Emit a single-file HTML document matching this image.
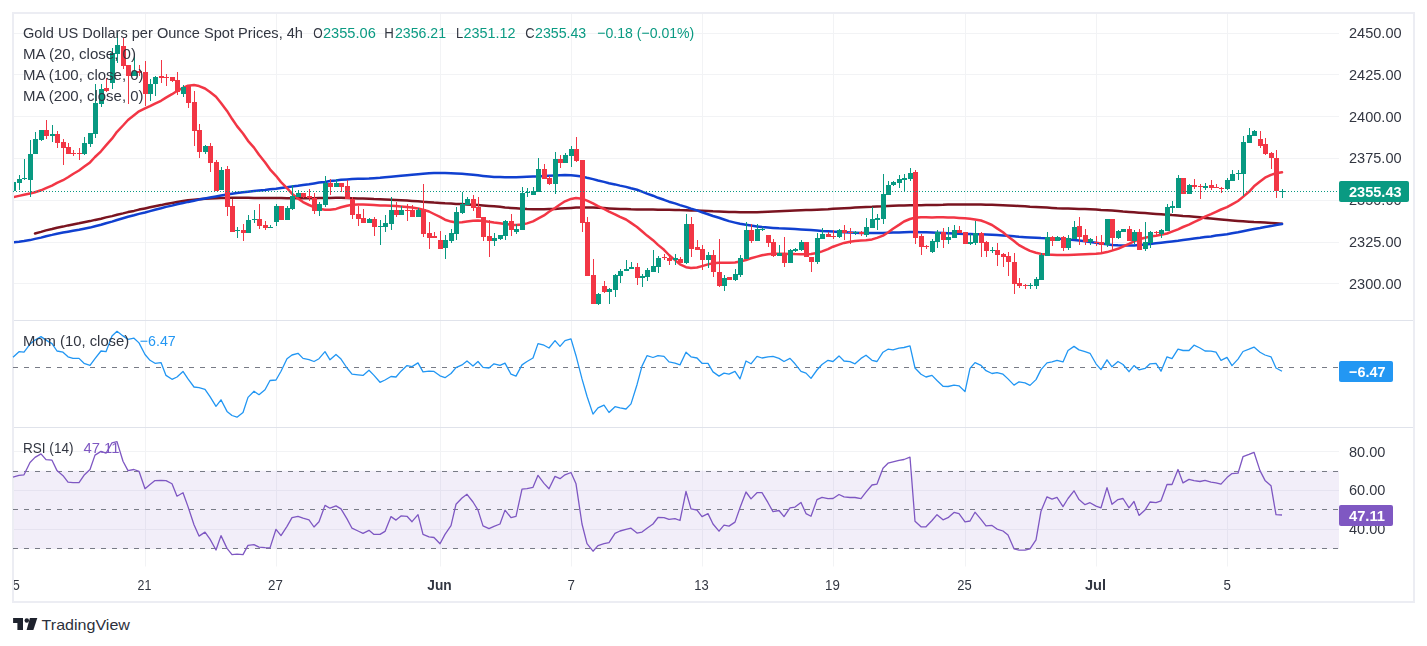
<!DOCTYPE html>
<html><head><meta charset="utf-8"><title>Gold chart</title><style>html,body{margin:0;padding:0;background:#fff;}svg{display:block;}</style></head><body>
<svg width="1427" height="646" viewBox="0 0 1427 646">
<rect width="1427" height="646" fill="#fff"/>
<defs><clipPath id="cx"><rect x="14" y="570" width="1400" height="30"/></clipPath><clipPath id="cp"><rect x="14" y="14" width="1325" height="552"/></clipPath><clipPath id="cm"><rect x="14" y="14" width="1325" height="306"/></clipPath></defs>
<path d="M145.5,14V566.5M276.5,14V566.5M440.5,14V566.5M571.5,14V566.5M702.5,14V566.5M833.5,14V566.5M965.5,14V566.5M1096.5,14V566.5M1227.5,14V566.5M14,33.5H1339M14,74.5H1339M14,116.5H1339M14,158.5H1339M14,200.5H1339M14,242.5H1339M14,283.5H1339M14,451.5H1339M14,490.5H1339M14,529.5H1339" stroke="#f2f3f5" stroke-width="1" fill="none"/>
<rect x="14" y="470.7" width="1325" height="78.3" fill="#7e57c2" fill-opacity="0.1"/>
<path d="M14,320.5H1413M14,427.5H1413" stroke="#e0e3eb" stroke-width="1" fill="none"/>
<rect x="13" y="13" width="1401" height="589" fill="none" stroke="#ecedf3" stroke-width="2"/>
<g clip-path="url(#cm)">
<path d="M35,233.5L41,231.9L46,230.4L52,229L57,227.7L63,226.6L68,225.4L73,224.4L79,223.3L84,222.2L90,221.1L95,219.9L101,218.7L106,217.4L112,216.1L117,214.8L123,213.4L128,212.1L134,210.9L139,209.6L145,208.4L150,207.3L155,206.2L161,205.1L166,204L172,202.9L177,201.9L183,201L188,200.3L194,199.7L199,199.2L205,198.7L210,198.4L216,198.2L221,198L227,197.9L232,197.8L237,197.8L243,197.8L248,197.8L254,197.9L259,197.9L265,198L270,198L276,198.1L281,198.1L287,198.2L292,198.2L298,198.2L303,198.2L309,198.2L314,198.2L319,198.1L325,198L330,197.9L336,197.8L341,197.8L347,198L352,198.2L358,198.4L363,198.6L369,198.8L374,199.1L380,199.3L385,199.5L391,199.7L396,199.9L401,200.2L407,200.5L412,200.9L418,201.3L423,201.8L429,202.2L434,202.6L440,202.9L445,203.3L451,203.6L456,203.9L462,204.1L467,204.4L473,204.7L478,205.1L483,205.4L489,205.9L494,206.3L500,206.8L505,207.4L511,207.9L516,208.3L522,208.7L527,209L533,209.2L538,209.3L544,209.3L549,209.1L555,208.9L560,208.6L565,208.2L571,207.9L576,207.6L582,207.4L587,207.4L593,207.6L598,207.8L604,208.1L609,208.4L615,208.7L620,209L626,209.1L631,209.3L637,209.4L642,209.5L647,209.6L653,209.6L658,209.7L664,209.7L669,209.8L675,209.9L680,210.1L686,210.2L691,210.4L697,210.6L702,210.8L708,211L713,211.3L719,211.5L724,211.7L729,212L735,212.1L740,212.3L746,212.3L751,212.3L757,212.2L762,212L768,211.7L773,211.5L779,211.2L784,210.9L790,210.7L795,210.5L801,210.3L806,210.1L811,209.9L817,209.7L822,209.5L828,209.2L833,208.8L839,208.5L844,208.2L850,207.9L855,207.6L861,207.3L866,207L872,206.8L877,206.5L883,206.3L888,206L893,205.8L899,205.6L904,205.5L910,205.3L915,205.3L921,205.2L926,205.1L932,205.1L937,204.9L943,204.8L948,204.6L954,204.5L959,204.4L965,204.4L970,204.4L975,204.5L981,204.6L986,204.7L992,204.8L997,205L1003,205.2L1008,205.4L1014,205.7L1019,206L1025,206.3L1030,206.7L1036,207L1041,207.3L1047,207.6L1052,207.9L1057,208.2L1063,208.4L1068,208.6L1074,208.8L1079,209L1085,209.1L1090,209.3L1096,209.5L1101,209.9L1107,210.2L1112,210.6L1118,211L1123,211.5L1129,211.9L1134,212.3L1139,212.7L1145,213.1L1150,213.5L1156,213.9L1161,214.3L1167,214.7L1172,215.1L1178,215.4L1183,215.9L1189,216.3L1194,216.8L1200,217.3L1205,217.9L1211,218.4L1216,218.9L1221,219.4L1227,220L1232,220.4L1238,220.9L1243,221.3L1249,221.7L1254,222.1L1260,222.3L1265,222.6L1271,223L1276,223.3L1282,223.7" stroke="#7a1420" stroke-width="2.5" fill="none" stroke-linecap="round" stroke-linejoin="round"/>
<path d="M13,242.3L19,241.8L24,241.1L30,240.1L35,238.9L41,237.6L46,236.2L52,234.9L57,233.7L63,232.6L68,231.7L73,230.7L79,229.7L84,228.7L90,227.6L95,226.2L101,224.8L106,223.2L112,221.6L117,220L123,218.3L128,216.8L134,215.3L139,213.9L145,212.5L150,211.1L155,209.7L161,208.3L166,206.9L172,205.6L177,204.3L183,203.1L188,201.9L194,200.7L199,199.6L205,198.5L210,197.5L216,196.4L221,195.5L227,194.5L232,193.7L237,192.9L243,192.3L248,191.7L254,191.1L259,190.5L265,190L270,189.3L276,188.7L281,188L287,187.3L292,186.6L298,185.8L303,185L309,184.2L314,183.4L319,182.6L325,181.9L330,181.1L336,180.5L341,179.8L347,179.4L352,179L358,178.8L363,178.7L369,178.5L374,178.2L380,177.8L385,177.3L391,176.8L396,176.3L401,175.8L407,175.2L412,174.7L418,174.2L423,173.7L429,173.3L434,173.1L440,173L445,173.1L451,173.2L456,173.5L462,173.8L467,174.2L473,174.7L478,175.3L483,175.9L489,176.5L494,176.9L500,177.1L505,177.2L511,177.2L516,177.2L522,177L527,176.8L533,176.6L538,176.4L544,176.1L549,175.8L555,175.5L560,175.3L565,175.1L571,175.2L576,175.7L582,176.6L587,177.8L593,179.1L598,180.5L604,181.9L609,183.2L615,184.4L620,185.6L626,186.9L631,188.3L637,189.8L642,191.6L647,193.6L653,195.7L658,197.8L664,199.8L669,201.7L675,203.4L680,205.1L686,206.9L691,208.6L697,210.4L702,212.3L708,214.2L713,216L719,217.8L724,219.5L729,221.1L735,222.6L740,223.8L746,224.8L751,225.6L757,226.4L762,227L768,227.5L773,227.9L779,228.3L784,228.5L790,228.8L795,229.1L801,229.4L806,229.8L811,230.1L817,230.5L822,230.9L828,231.2L833,231.6L839,231.9L844,232.2L850,232.5L855,232.7L861,232.9L866,233L872,233.1L877,233.1L883,233L888,232.8L893,232.6L899,232.4L904,232.3L910,232.1L915,232.1L921,232.2L926,232.3L932,232.5L937,232.7L943,233L948,233.3L954,233.6L959,233.8L965,233.9L970,234.1L975,234.2L981,234.3L986,234.5L992,234.7L997,235L1003,235.4L1008,235.8L1014,236.3L1019,236.8L1025,237.2L1030,237.5L1036,237.8L1041,238.1L1047,238.3L1052,238.5L1057,238.7L1063,239.1L1068,239.5L1074,240L1079,240.6L1085,241.3L1090,242.1L1096,242.8L1101,243.6L1107,244.3L1112,244.9L1118,245.3L1123,245.5L1129,245.6L1134,245.4L1139,245L1145,244.5L1150,243.9L1156,243.3L1161,242.7L1167,242L1172,241.4L1178,240.7L1183,240L1189,239.2L1194,238.5L1200,237.8L1205,237.1L1211,236.4L1216,235.6L1221,234.9L1227,234.2L1232,233.3L1238,232.3L1243,231.3L1249,230.1L1254,229.1L1260,228.1L1265,227.1L1271,226.1L1276,225L1282,224" stroke="#1040d0" stroke-width="2.5" fill="none" stroke-linecap="round" stroke-linejoin="round"/>
<path d="M13,197.2L19,195.9L24,194.8L30,193.6L35,192.2L41,190.3L46,188.1L52,185.6L57,182.9L63,180.2L68,177.2L73,174L79,170.5L84,166.8L90,162.4L95,157L101,151.3L106,145.4L112,138.7L117,131.8L123,125.5L128,120L134,115.2L139,111.3L145,108.4L150,106.1L155,103.6L161,100.8L166,97.6L172,94.2L177,91L183,87.9L188,85.7L194,85.1L199,86.1L205,88.5L210,92.1L216,96.8L221,103L227,110.9L232,118.8L237,126.1L243,133.5L248,140.8L254,147.6L259,154.8L265,162.3L270,169.3L276,175.8L281,182.1L287,188.2L292,193.7L298,198.4L303,202.1L309,205L314,207.2L319,208.7L325,209.7L330,209.8L336,208.9L341,207.3L347,205.7L352,204.7L358,204.4L363,204.5L369,204.7L374,205L380,205.4L385,205.6L391,205.8L396,206.1L401,206.5L407,207L412,207.6L418,208.4L423,209.6L429,211.5L434,214L440,216.9L445,219.7L451,221.6L456,222.4L462,222.2L467,221.5L473,220.8L478,220.6L483,220.9L489,221.7L494,222.5L500,223.3L505,224.1L511,224.7L516,224.9L522,224.5L527,223.4L533,221.4L538,218.7L544,215.4L549,211.8L555,208L560,204.5L565,201.3L571,198.9L576,198L582,198.7L587,200.7L593,203.4L598,206.1L604,208.9L609,211.6L615,214.3L620,216.8L626,219.5L631,222.9L637,227L642,231.3L647,235.6L653,240.2L658,244.9L664,249.8L669,255L675,260.1L680,264.4L686,267.2L691,268.1L697,267.5L702,266.1L708,264.4L713,263.3L719,262.8L724,262.8L729,262.8L735,262.6L740,261.6L746,260L751,258.3L757,256.6L762,255.2L768,254.2L773,253.7L779,253.7L784,253.8L790,253.9L795,254.1L801,254.2L806,254.2L811,254L817,253.1L822,251.4L828,249.1L833,246.7L839,244.6L844,242.9L850,241.7L855,241L861,240.6L866,240.2L872,239.4L877,237.9L883,235.6L888,232.5L893,228.7L899,224.9L904,221.5L910,219L915,217.7L921,217.3L926,217.3L932,217.4L937,217.3L943,217.3L948,217.4L954,217.6L959,217.9L965,218.3L970,218.7L975,219.4L981,220.5L986,222.4L992,225L997,228.4L1003,232.3L1008,236.6L1014,241L1019,245.1L1025,248.4L1030,250.9L1036,252.7L1041,253.9L1047,254.5L1052,254.8L1057,255L1063,255.1L1068,255L1074,254.7L1079,254.5L1085,254.3L1090,254.1L1096,253.8L1101,253.2L1107,252.1L1112,250.6L1118,248.8L1123,246.5L1129,243.9L1134,241.4L1139,239.3L1145,237.7L1150,236.6L1156,235.7L1161,234.8L1167,233.5L1172,231.6L1178,229.4L1183,227L1189,224.6L1194,222.1L1200,219.4L1205,216.7L1211,214.1L1216,211.8L1221,209.5L1227,207.1L1232,204.3L1238,201L1243,196.9L1249,191.8L1254,186.3L1260,181.5L1265,177.7L1271,174.9L1276,173.3L1282,172.3" stroke="#f23645" stroke-width="2.5" fill="none" stroke-linecap="round" stroke-linejoin="round"/>
<path d="M13.5,182V191M19.5,175V190M24.5,159V180M30.5,140V197M35.5,132V154M41.5,130V141M52.5,125V142M84.5,137V155M90.5,133V147M95.5,84V138M101.5,84V107M112.5,48V89M117.5,33V63M134.5,56V76M150.5,79V101M155.5,76V96M183.5,85V97M205.5,145V154M221.5,167V190M237.5,227V238M248.5,215V233M254.5,210V223M270.5,225V228M276.5,204V226M287.5,206V220M292.5,185V210M298.5,190V197M319.5,202V216M325.5,176V207M336.5,179V187M369.5,218V223M380.5,220V245M385.5,215V232M391.5,197V230M401.5,206V215M418.5,208V217M445.5,235V259M451.5,229V243M456.5,207V240M462.5,192V214M467.5,197V205M494.5,233V246M500.5,235V240M505.5,220V240M516.5,224V234M522.5,187V230M527.5,188V197M533.5,187V195M538.5,158V192M555.5,152V194M565.5,153V163M571.5,146V167M598.5,293V305M609.5,288V304M615.5,274V297M620.5,269V283M626.5,260V271M631.5,262V269M642.5,274V287M647.5,268V281M653.5,250V272M658.5,256V273M675.5,254V265M686.5,214V264M708.5,252V268M724.5,275V291M735.5,269V281M740.5,255V277M746.5,222V259M757.5,224V241M762.5,227V231M779.5,245V256M790.5,249V263M795.5,248V252M801.5,240V251M817.5,233V264M822.5,228V239M839.5,229V238M855.5,231V235M866.5,218V237M872.5,207V228M877.5,214V230M883.5,174V224M888.5,181V195M893.5,181V186M899.5,175V188M904.5,174V192M910.5,168V181M932.5,239V253M937.5,230V248M948.5,227V244M954.5,225V238M970.5,234V245M975.5,221V245M992.5,247V253M1030.5,283V289M1036.5,277V289M1041.5,253V280M1047.5,232V256M1057.5,236V241M1068.5,235V250M1074.5,221V239M1090.5,238V245M1107.5,219V247M1118.5,230V239M1123.5,229V232M1134.5,230V244M1145.5,222V251M1150.5,231V248M1161.5,229V238M1167.5,204V231M1172.5,201V213M1178.5,175V208M1189.5,184V194M1205.5,183V190M1227.5,178V190M1232.5,170V181M1238.5,170V180M1243.5,136V196M1249.5,128V143M1254.5,130V136M1282.5,189V198" stroke="#089981" stroke-width="1.0" fill="none"/>
<path d="M46.5,120V139M57.5,131V148M63.5,139V165M68.5,143V154M73.5,150V156M79.5,148V160M106.5,78V92M123.5,38V69M128.5,65V104M139.5,65V76M145.5,61V106M161.5,60V83M166.5,74V86M172.5,77V82M177.5,72V95M188.5,86V108M194.5,91V146M199.5,124V158M210.5,143V172M216.5,160V191M227.5,166V216M232.5,199V232M243.5,224V241M259.5,204V229M265.5,221V230M281.5,206V220M303.5,193V198M309.5,189V201M314.5,193V214M330.5,179V195M341.5,183V192M347.5,180V199M352.5,197V219M358.5,206V226M363.5,209V223M374.5,217V236M396.5,202V217M407.5,204V221M412.5,205V217M423.5,184V237M429.5,222V249M434.5,232V238M440.5,231V249M473.5,195V211M478.5,197V218M483.5,217V241M489.5,220V257M511.5,214V236M544.5,164V179M549.5,176V185M560.5,155V168M576.5,137V162M582.5,160V232M587.5,217V276M593.5,259V304M604.5,281V293M637.5,263V285M664.5,254V260M669.5,256V265M680.5,257V263M691.5,217V257M697.5,240V250M702.5,245V270M713.5,250V277M719.5,239V287M729.5,277V280M751.5,224V243M768.5,235V247M773.5,239V257M784.5,237V267M806.5,242V257M811.5,257V272M828.5,232V237M833.5,230V239M844.5,225V240M850.5,228V244M861.5,231V236M915.5,170V244M921.5,234V255M926.5,245V249M943.5,228V248M959.5,226V233M965.5,232V244M981.5,232V257M986.5,241V257M997.5,243V266M1003.5,253V267M1008.5,252V276M1014.5,253V294M1019.5,278V288M1025.5,284V289M1052.5,236V246M1063.5,236V251M1079.5,217V245M1085.5,229V245M1096.5,236V246M1101.5,235V252M1112.5,219V250M1129.5,226V241M1139.5,229V250M1156.5,231V235M1183.5,178V194M1194.5,179V189M1200.5,184V199M1211.5,180V190M1216.5,184V188M1221.5,187V193M1260.5,131V148M1265.5,138V155M1271.5,152V169M1276.5,150V198" stroke="#f23645" stroke-width="1.0" fill="none"/>
<path d="M11,182h5V191h-5zM17,179h5V183h-5zM22,178h5V179h-5zM28,154h5V180h-5zM33,139h5V154h-5zM39,130h5V140h-5zM50,134h5V136h-5zM82,143h5V154h-5zM88,133h5V144h-5zM93,103h5V134h-5zM99,89h5V104h-5zM110,53h5V83h-5zM115,45h5V54h-5zM132,71h5V76h-5zM148,84h5V94h-5zM153,77h5V84h-5zM181,87h5V94h-5zM203,146h5V152h-5zM219,170h5V190h-5zM235,230h5V231h-5zM246,220h5V233h-5zM252,219h5V220h-5zM268,227h5V228h-5zM274,206h5V222h-5zM285,208h5V220h-5zM290,196h5V209h-5zM296,193h5V197h-5zM317,204h5V211h-5zM323,183h5V205h-5zM334,183h5V187h-5zM367,219h5V223h-5zM378,226h5V227h-5zM383,223h5V227h-5zM389,210h5V224h-5zM399,210h5V215h-5zM416,210h5V217h-5zM443,240h5V248h-5zM449,233h5V241h-5zM454,212h5V234h-5zM460,204h5V213h-5zM465,199h5V205h-5zM492,238h5V241h-5zM498,235h5V239h-5zM503,221h5V236h-5zM514,229h5V232h-5zM520,193h5V230h-5zM525,192h5V193h-5zM531,191h5V195h-5zM536,169h5V192h-5zM553,159h5V184h-5zM563,155h5V163h-5zM569,149h5V156h-5zM596,294h5V304h-5zM607,289h5V292h-5zM613,275h5V290h-5zM618,271h5V276h-5zM624,269h5V271h-5zM629,267h5V269h-5zM640,276h5V278h-5zM645,270h5V277h-5zM651,266h5V272h-5zM656,258h5V267h-5zM673,258h5V260h-5zM684,224h5V263h-5zM706,255h5V260h-5zM722,278h5V286h-5zM733,274h5V280h-5zM738,258h5V275h-5zM744,230h5V259h-5zM755,229h5V241h-5zM760,229h5V230h-5zM777,253h5V256h-5zM788,250h5V263h-5zM793,249h5V251h-5zM799,242h5V250h-5zM815,238h5V262h-5zM820,234h5V239h-5zM837,230h5V237h-5zM853,232h5V233h-5zM864,227h5V235h-5zM870,219h5V228h-5zM875,218h5V220h-5zM881,194h5V219h-5zM886,185h5V195h-5zM891,182h5V185h-5zM897,179h5V183h-5zM902,178h5V180h-5zM908,173h5V179h-5zM930,241h5V252h-5zM935,232h5V242h-5zM946,237h5V240h-5zM952,230h5V238h-5zM968,242h5V244h-5zM973,233h5V243h-5zM990,250h5V251h-5zM1028,285h5V286h-5zM1034,279h5V286h-5zM1039,255h5V280h-5zM1045,237h5V256h-5zM1055,237h5V241h-5zM1066,238h5V248h-5zM1072,227h5V239h-5zM1088,239h5V242h-5zM1105,219h5V245h-5zM1116,231h5V238h-5zM1121,229h5V232h-5zM1132,232h5V241h-5zM1143,242h5V249h-5zM1148,232h5V243h-5zM1159,230h5V234h-5zM1165,207h5V231h-5zM1170,206h5V208h-5zM1176,178h5V208h-5zM1187,185h5V194h-5zM1203,186h5V188h-5zM1225,180h5V189h-5zM1230,174h5V181h-5zM1236,173h5V174h-5zM1241,142h5V174h-5zM1247,135h5V143h-5zM1252,131h5V136h-5zM1280,191h5V192h-5z" fill="#089981"/>
<path d="M44,130h5V136h-5zM55,134h5V143h-5zM61,142h5V148h-5zM66,147h5V154h-5zM71,153h5V154h-5zM77,153h5V154h-5zM104,88h5V91h-5zM121,46h5V66h-5zM126,65h5V76h-5zM137,71h5V73h-5zM143,72h5V94h-5zM159,76h5V78h-5zM164,77h5V78h-5zM170,77h5V81h-5zM175,80h5V92h-5zM186,86h5V103h-5zM192,102h5V131h-5zM197,130h5V152h-5zM208,146h5V163h-5zM214,162h5V191h-5zM225,169h5V207h-5zM230,206h5V232h-5zM241,230h5V233h-5zM257,219h5V226h-5zM263,225h5V228h-5zM279,206h5V220h-5zM301,193h5V197h-5zM307,196h5V198h-5zM312,198h5V211h-5zM328,183h5V187h-5zM339,183h5V187h-5zM345,186h5V199h-5zM350,199h5V215h-5zM356,214h5V219h-5zM361,218h5V223h-5zM372,219h5V227h-5zM394,210h5V215h-5zM405,210h5V211h-5zM410,210h5V217h-5zM421,209h5V234h-5zM427,233h5V238h-5zM432,236h5V238h-5zM438,240h5V249h-5zM471,199h5V208h-5zM476,207h5V218h-5zM481,217h5V237h-5zM487,236h5V241h-5zM509,221h5V230h-5zM542,169h5V179h-5zM547,178h5V184h-5zM558,159h5V163h-5zM574,149h5V161h-5zM580,160h5V223h-5zM585,222h5V276h-5zM591,275h5V304h-5zM602,286h5V292h-5zM635,267h5V278h-5zM662,257h5V258h-5zM667,258h5V261h-5zM678,259h5V263h-5zM689,224h5V249h-5zM695,247h5V250h-5zM700,249h5V260h-5zM711,255h5V272h-5zM717,272h5V286h-5zM727,277h5V280h-5zM749,230h5V241h-5zM766,235h5V243h-5zM771,242h5V256h-5zM782,253h5V263h-5zM804,242h5V257h-5zM809,257h5V262h-5zM826,234h5V237h-5zM831,236h5V237h-5zM842,230h5V233h-5zM848,232h5V233h-5zM859,232h5V234h-5zM913,172h5V238h-5zM919,236h5V247h-5zM924,246h5V247h-5zM941,232h5V240h-5zM957,230h5V233h-5zM963,232h5V244h-5zM979,233h5V243h-5zM984,242h5V251h-5zM995,250h5V255h-5zM1001,254h5V257h-5zM1006,256h5V262h-5zM1012,262h5V284h-5zM1017,283h5V286h-5zM1023,285h5V286h-5zM1050,237h5V241h-5zM1061,237h5V248h-5zM1077,226h5V237h-5zM1083,235h5V242h-5zM1094,242h5V243h-5zM1099,242h5V245h-5zM1110,219h5V238h-5zM1127,229h5V241h-5zM1137,232h5V250h-5zM1154,232h5V233h-5zM1181,178h5V194h-5zM1192,185h5V187h-5zM1198,186h5V187h-5zM1209,185h5V188h-5zM1214,187h5V188h-5zM1219,188h5V189h-5zM1258,139h5V146h-5zM1263,144h5V154h-5zM1269,153h5V158h-5zM1274,158h5V191h-5z" fill="#f23645"/>
</g>
<path d="M13,191.5H1339" stroke="#089981" stroke-width="1" stroke-dasharray="1 2" fill="none"/>
<path d="M13,367.5H1339" stroke="#787b86" stroke-width="1" stroke-dasharray="5 6" fill="none"/>
<path d="M13,357.3L19,351.7L24,352.2L30,344.1L35,340.1L41,336.6L46,340.1L52,343.6L57,351L63,352.2L68,356.8L73,358.4L79,358.4L84,363.3L90,365.4L95,358.7L101,351L106,351.7L112,335.9L117,331.3L123,335.9L128,339.4L134,338.2L139,342.9L145,354.5L150,360.3L155,363.3L161,362.6L166,375.4L172,379.3L177,377L183,371.4L188,378.9L194,387L199,387.7L205,389.3L210,396.7L216,406.3L221,399.8L227,411.4L232,415.5L237,417.2L243,412.5L248,397.4L254,391.2L259,394.7L265,389.8L270,380.5L276,380L281,371.2L287,358.7L292,355L298,353.3L303,358.4L309,359.6L314,361.5L319,358.7L325,351.7L330,359.8L336,354.5L341,359.1L347,368L352,374.2L358,374.9L363,375.4L369,370.3L374,375.4L380,382.3L385,380L391,376.5L396,377L401,371.2L407,365.6L412,366.6L418,362.9L423,371.9L429,371.2L434,371.4L440,375.8L445,377.7L451,373.5L456,367.7L462,364.9L467,361L473,366.1L478,361.5L483,367.3L489,368L494,363.8L500,365.4L505,363.1L511,374.2L516,376.1L522,364.9L527,361.5L533,358L538,343.6L544,345.2L549,348L555,340.6L560,346.4L565,340.6L571,338.9L576,355.7L582,378.9L587,396.3L593,414.1L598,407.9L604,405.1L609,412.5L615,406.7L620,407.9L626,409L631,403.9L637,384.7L642,366.1L647,355.7L653,357.5L658,355.7L664,356.4L669,361.9L675,363.1L680,364.9L686,352.2L691,356.8L697,358L702,363.3L708,363.3L713,371.9L719,376.1L724,373.1L729,374.2L735,371.4L740,378.9L746,361L751,363.8L757,356.4L762,358L768,356.8L773,356.4L779,358.4L784,361.5L790,358.4L795,363.8L801,371.4L806,373.1L811,378.4L817,370L822,364.5L828,360.3L833,361.5L839,355.9L844,361L850,361.7L855,363.8L861,358.4L866,355.2L872,360.3L877,361.5L883,352.2L888,349.2L893,349.9L899,348.2L904,347.5L910,345.9L915,368L921,374.2L926,377L932,375.4L937,380.5L943,386.3L948,386.5L954,385.1L959,385.8L965,391.6L970,368.4L975,362.6L981,365.4L986,370.7L992,373.5L997,372.6L1003,374.2L1008,378.9L1014,385.1L1019,381.9L1025,382.8L1030,385.4L1036,379.6L1041,369.6L1047,362.9L1052,361.9L1057,360.3L1063,361.9L1068,350.5L1074,346.4L1079,349.9L1085,351.7L1090,353.3L1096,363.8L1101,369.6L1107,359.8L1112,366.8L1118,361.5L1123,364.5L1129,371.7L1134,365.6L1139,369.8L1145,368.4L1150,363.8L1156,363.3L1161,371.2L1167,356.8L1172,358.7L1178,349.2L1183,350.5L1189,350.5L1194,345.2L1200,348L1205,351L1211,351.2L1216,352.2L1221,360.3L1227,357.3L1232,365.6L1238,359.1L1243,351.5L1249,349.2L1254,347.1L1260,352.2L1265,355L1271,356.8L1276,368L1282,371.2" stroke="#2196f3" stroke-width="1.3" fill="none" stroke-linejoin="round"/>
<path d="M13,471.5H1339M13,509.5H1339M13,548.5H1339" stroke="#787b86" stroke-width="1" stroke-dasharray="5 6" fill="none"/>
<path d="M13,477.1L19,475.3L24,474.8L30,462.5L35,457.4L41,453.9L46,459.7L52,460.2L57,470.6L63,475.7L68,482.2L73,482.7L79,482.7L84,475.3L90,469.5L95,455.1L101,451.4L106,453.2L112,442.8L117,441.6L123,461.3L128,470.6L134,469.5L139,471.3L145,488.7L150,484.5L155,480.6L161,480.4L166,480.6L172,483.8L177,496.2L183,492.7L188,506.6L194,524.7L199,536.1L205,532.1L210,539.1L216,550L221,535.6L227,548.4L232,554.6L237,554.2L243,554.6L248,545.4L254,544.7L259,547.2L265,547.7L270,547.9L276,529.3L281,535.6L287,526.3L292,517.7L298,516.3L303,518.2L309,519.8L314,527L319,521.7L325,505.4L330,508.2L336,505.9L341,508.9L347,518.9L352,528.2L358,531L363,533.3L369,530.3L374,534.4L380,534.4L385,531.4L391,516.6L396,520.1L401,515.9L407,516.3L412,521.7L418,514.7L423,534.4L429,536.8L434,537.5L440,543.7L445,534.4L451,525.6L456,504.3L462,498L467,494.3L473,502L478,510.1L483,525.9L489,528.6L494,526.3L500,524L505,510.1L511,517.7L516,516.3L522,489.2L527,488.7L533,487.3L538,475.3L544,483.4L549,488.7L555,476.4L560,478.7L565,474.8L571,472.5L576,483.8L582,524L587,543.7L593,551.2L598,545.6L604,543.7L609,542.6L615,533.3L620,531L626,529.3L631,528.2L637,533.1L642,532.1L647,528.2L653,524L658,517.5L664,517.7L669,519.4L675,518.7L680,520.5L686,491.5L691,508.9L697,510.1L702,516.6L708,513.6L713,524L719,531.2L724,525.2L729,526.1L735,522.1L740,507.8L746,492L751,498.9L757,492.7L762,492.7L768,502.7L773,511.7L779,510.5L784,516.6L790,507.8L795,507.1L801,502.4L806,513.6L811,516.3L817,499.6L822,497.3L828,498.7L833,498.5L839,494.5L844,496.8L850,497.5L855,497.5L861,498.7L866,492.2L872,485L877,484.1L883,468.3L888,463.2L893,461.8L899,460.4L904,459.5L910,457.2L915,521.2L921,526.8L926,526.8L932,520.5L937,514.7L943,519.8L948,517.7L954,512.4L959,513.6L965,521.9L970,521L975,512.2L981,519.4L986,525.9L992,525.4L997,529.1L1003,531L1008,535.1L1014,548.8L1019,550.2L1025,550.2L1030,548.8L1036,539.8L1041,511.2L1047,496.8L1052,499.2L1057,497.3L1063,506.6L1068,498.5L1074,490.8L1079,499.6L1085,504.7L1090,502.7L1096,506.1L1101,507.8L1107,487.6L1112,504.3L1118,499.6L1123,498.5L1129,507.8L1134,501.5L1139,515.4L1145,510.1L1150,502L1156,502.7L1161,500.8L1167,484.5L1172,484.5L1178,469.5L1183,482.9L1189,479.4L1194,480.6L1200,481.5L1205,480.4L1211,482.2L1216,482.9L1221,484.1L1227,477.6L1232,473.6L1238,473.2L1243,456.7L1249,454.4L1254,452.3L1260,470.6L1265,480.4L1271,485.7L1276,514.7L1282,515" stroke="#7e57c2" stroke-width="1.3" fill="none" stroke-linejoin="round"/>
<g font-family="Liberation Sans, sans-serif" font-size="15" fill="#30343f" opacity="0.99">
<text x="1349" y="38" textLength="52.6" lengthAdjust="spacingAndGlyphs">2450.00</text>
<text x="1349" y="80" textLength="52.6" lengthAdjust="spacingAndGlyphs">2425.00</text>
<text x="1349" y="122" textLength="52.6" lengthAdjust="spacingAndGlyphs">2400.00</text>
<text x="1349" y="163" textLength="52.6" lengthAdjust="spacingAndGlyphs">2375.00</text>
<text x="1349" y="205" textLength="52.6" lengthAdjust="spacingAndGlyphs">2350.00</text>
<text x="1349" y="247" textLength="52.6" lengthAdjust="spacingAndGlyphs">2325.00</text>
<text x="1349" y="289" textLength="52.6" lengthAdjust="spacingAndGlyphs">2300.00</text>
<text x="1349" y="457" textLength="36.4" lengthAdjust="spacingAndGlyphs">80.00</text>
<text x="1349" y="495" textLength="36.4" lengthAdjust="spacingAndGlyphs">60.00</text>
<text x="1349" y="534" textLength="36.4" lengthAdjust="spacingAndGlyphs">40.00</text>
<rect x="1339" y="181" width="70" height="21" rx="2" fill="#089981"/>
<text x="1349" y="197" textLength="52.6" lengthAdjust="spacingAndGlyphs" fill="#fff" font-weight="bold">2355.43</text>
<rect x="1339" y="361" width="54" height="21" rx="2" fill="#2196f3"/>
<text x="1349" y="377" textLength="36.4" lengthAdjust="spacingAndGlyphs" fill="#fff" font-weight="bold">−6.47</text>
<rect x="1339" y="505" width="54" height="21" rx="2" fill="#7e57c2"/>
<text x="1349" y="521" textLength="36" lengthAdjust="spacingAndGlyphs" fill="#fff" font-weight="bold">47.11</text>
<text x="23" y="38" textLength="280" lengthAdjust="spacingAndGlyphs">Gold US Dollars per Ounce Spot Prices, 4h</text>
<text x="313.3" y="38" textLength="9.4" lengthAdjust="spacingAndGlyphs">O</text>
<text x="323" y="38" textLength="52.8" lengthAdjust="spacingAndGlyphs" fill="#089981">2355.06</text>
<text x="384.3" y="38" textLength="9.6" lengthAdjust="spacingAndGlyphs">H</text>
<text x="395" y="38" textLength="51" lengthAdjust="spacingAndGlyphs" fill="#089981">2356.21</text>
<text x="456.1" y="38" textLength="7.2" lengthAdjust="spacingAndGlyphs">L</text>
<text x="463.5" y="38" textLength="52" lengthAdjust="spacingAndGlyphs" fill="#089981">2351.12</text>
<text x="525.2" y="38" textLength="9.4" lengthAdjust="spacingAndGlyphs">C</text>
<text x="535" y="38" textLength="51.2" lengthAdjust="spacingAndGlyphs" fill="#089981">2355.43</text>
<text x="597.3" y="38" textLength="97" lengthAdjust="spacingAndGlyphs" fill="#089981">−0.18 (−0.01%)</text>
<text x="23" y="59" textLength="113" lengthAdjust="spacingAndGlyphs">MA (20, close, 0)</text>
<text x="23" y="80" textLength="120.5" lengthAdjust="spacingAndGlyphs">MA (100, close, 0)</text>
<text x="23" y="101" textLength="120.5" lengthAdjust="spacingAndGlyphs">MA (200, close, 0)</text>
<text x="23" y="346" textLength="106.2" lengthAdjust="spacingAndGlyphs">Mom (10, close)</text>
<text x="139.8" y="346" textLength="36" lengthAdjust="spacingAndGlyphs" fill="#2196f3">−6.47</text>
<text x="23" y="453" textLength="50.5" lengthAdjust="spacingAndGlyphs">RSI (14)</text>
<text x="83.5" y="453" textLength="36" lengthAdjust="spacingAndGlyphs" fill="#7e57c2">47.11</text>
<g clip-path="url(#cx)">
<text x="5.2" y="590" textLength="14.6" lengthAdjust="spacingAndGlyphs">15</text>
<text x="137.6" y="590" textLength="13.8" lengthAdjust="spacingAndGlyphs">21</text>
<text x="268.1" y="590" textLength="14.8" lengthAdjust="spacingAndGlyphs">27</text>
<text x="427.3" y="590" textLength="24.4" lengthAdjust="spacingAndGlyphs" font-weight="bold">Jun</text>
<text x="567.6" y="590" textLength="7.4" lengthAdjust="spacingAndGlyphs">7</text>
<text x="694.3" y="590" textLength="14.4" lengthAdjust="spacingAndGlyphs">13</text>
<text x="825.1" y="590" textLength="14.8" lengthAdjust="spacingAndGlyphs">19</text>
<text x="957.3" y="590" textLength="14.4" lengthAdjust="spacingAndGlyphs">25</text>
<text x="1085" y="590" textLength="21.1" lengthAdjust="spacingAndGlyphs" font-weight="bold">Jul</text>
<text x="1223.6" y="590" textLength="7.4" lengthAdjust="spacingAndGlyphs">5</text>
</g>
</g>
<g fill="#1e222d"><path d="M13.1,617.9H23V629.9H17.4V623H13.1z"/><circle cx="26.8" cy="620.4" r="2.25"/><path d="M29.9,617.9H37.3L33.4,629.9H26.6z"/></g>
<text x="41.6" y="629.9" font-family="Liberation Sans, sans-serif" font-size="15" fill="#2a2e39" opacity="0.99" textLength="88.3" lengthAdjust="spacingAndGlyphs">TradingView</text>
</svg>
</body></html>
